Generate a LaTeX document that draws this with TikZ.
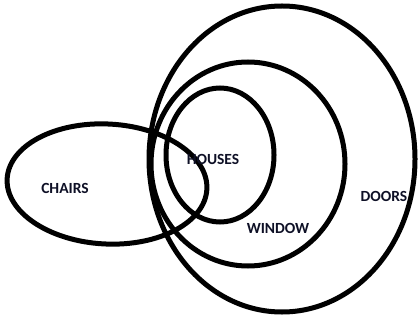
\documentclass[tikz,border=0pt]{standalone}
\usepackage{fontspec}
\setmainfont{Carlito}
\usetikzlibrary{positioning}

\definecolor{labelink}{RGB}{14,16,38}

\begin{document}
\begin{tikzpicture}[
    x=1pt, y=-1pt,
    set/.style={draw=black, line width=5pt},
    setlabel/.style={font=\bfseries\fontsize{15.5}{18}\selectfont, text=labelink, inner sep=0pt}
]
\useasboundingbox (0,0) rectangle (419,320);

% Sets
\draw[set] (282,159) ellipse [x radius=133pt, y radius=153pt]; % doors
\draw[set] (248,164) ellipse [x radius=97pt, y radius=102pt];  % window
\draw[set] (220,155) ellipse [x radius=54pt, y radius=67pt];   % houses
\draw[set, rotate around={-3:(107,184)}] (107,184) ellipse [x radius=100pt, y radius=60pt]; % chairs

% Labels
\node[setlabel] (chairs) at (65,188) {CHAIRS};
\node[setlabel] (houses) at (213,159) {HOUSES};
\node[setlabel] (window) at (278,228) {WINDOW};
\node[setlabel] (doors) at (384,196) {DOORS};

\end{tikzpicture}
\end{document}
